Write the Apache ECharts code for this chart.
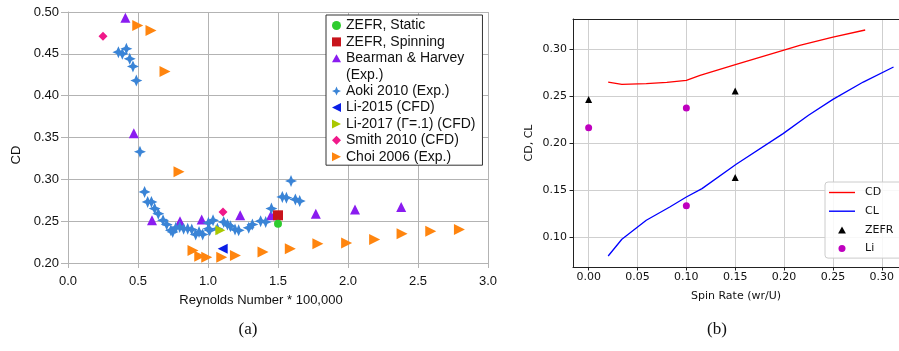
<!DOCTYPE html>
<html><head><meta charset="utf-8">
<script src="https://cdn.jsdelivr.net/npm/echarts@6/dist/echarts.min.js"></script>
<style>html,body{margin:0;padding:0;background:#fff}#c{width:899px;height:351px}</style>
</head><body><div id="c"></div>
<script>
// ---------- (a) CD vs Reynolds number ----------
const xTicksA = [0.0, 0.5, 1.0, 1.5, 2.0, 2.5, 3.0];
const yTicksA = [0.20, 0.25, 0.30, 0.35, 0.40, 0.45, 0.50];
const zefrStatic = [[1.50, 0.247]];
const zefrSpinning = [[1.50, 0.257]];
const bearman = [[0.41, 0.493], [0.47, 0.355], [0.60, 0.251], [0.80, 0.250], [0.955, 0.252], [1.23, 0.257], [1.45, 0.257], [1.77, 0.259], [2.05, 0.264], [2.38, 0.267]];
const aoki = [[0.36, 0.452], [0.388, 0.450], [0.417, 0.456], [0.441, 0.444], [0.464, 0.435], [0.488, 0.418], [0.514, 0.333],
  [0.547, 0.285], [0.569, 0.273], [0.596, 0.273], [0.619, 0.265], [0.645, 0.259], [0.679, 0.251], [0.705, 0.246],
  [0.735, 0.239], [0.748, 0.237], [0.770, 0.242], [0.798, 0.243], [0.826, 0.241], [0.855, 0.241], [0.884, 0.240],
  [0.912, 0.234], [0.936, 0.237], [0.962, 0.234], [1.003, 0.248], [1.003, 0.241], [1.012, 0.239], [1.036, 0.251],
  [1.067, 0.241], [1.112, 0.249], [1.139, 0.246], [1.160, 0.244], [1.193, 0.240], [1.219, 0.239], [1.291, 0.242],
  [1.317, 0.246], [1.376, 0.250], [1.412, 0.249], [1.453, 0.265], [1.531, 0.279], [1.560, 0.278], [1.593, 0.298],
  [1.624, 0.276], [1.655, 0.274]];
const li2015 = [[1.105, 0.217]];
const li2017 = [[1.088, 0.239]];
const smith = [[0.25, 0.471], [1.107, 0.261]];
const choi = [[0.498, 0.484], [0.593, 0.478], [0.693, 0.429], [0.793, 0.309], [0.893, 0.215], [0.941, 0.208], [0.991, 0.207],
  [1.098, 0.207], [1.196, 0.209], [1.393, 0.213], [1.588, 0.217], [1.785, 0.223], [1.99, 0.224], [2.19, 0.228],
  [2.386, 0.235], [2.591, 0.238], [2.796, 0.240]];

// ---------- (b) CD, CL vs spin rate ----------
const xTicksB = [0.00, 0.05, 0.10, 0.15, 0.20, 0.25, 0.30];
const yTicksB = [0.10, 0.15, 0.20, 0.25, 0.30];
const cdCurve = [[0.020, 0.2655], [0.034, 0.2631], [0.059, 0.2638], [0.080, 0.2652], [0.100, 0.2673], [0.114, 0.2727],
  [0.151, 0.2844], [0.199, 0.2993], [0.216, 0.3046], [0.250, 0.3134], [0.283, 0.3209]];
const clCurve = [[0.020, 0.0804], [0.034, 0.0982], [0.059, 0.1184], [0.083, 0.1326], [0.100, 0.1432], [0.116, 0.1521],
  [0.151, 0.1780], [0.199, 0.2106], [0.225, 0.2301], [0.250, 0.2471], [0.281, 0.2655], [0.312, 0.2815]];
const zefrB = [[0.00, 0.247], [0.15, 0.256], [0.15, 0.164]];
const liB = [[0.00, 0.217], [0.10, 0.238], [0.10, 0.134]];

const LS = '"Liberation Sans", Arial, sans-serif';
const DJ = '"DejaVu Sans", sans-serif';
const RIGHT_TRI = 'path://M0,0 L10,5 L0,10 Z';
const LEFT_TRI = 'path://M10,0 L0,5 L10,10 Z';
const UP_TRI = 'path://M5,0 L10,9 L0,9 Z';
const STAR4 = 'path://M5,0 L6.5,3.5 L10,5 L6.5,6.5 L5,10 L3.5,6.5 L0,5 L3.5,3.5 Z';
const HLINE = 'path://M0,0 L26,0 L26,1.4 L0,1.4 Z';
const gA = '#b3b3b3';
const gB = '#cfcfcf';
const XMIN_B = -0.016, XMAX_B = 0.3176, YMIN_B = 0.0687, YMAX_B = 0.3326;

const chart = echarts.init(document.getElementById('c'), null, {renderer: 'canvas'});
const opt = {
  animation: false,
  backgroundColor: '#fff',
  grid: [
    {left: 68, top: 12, width: 420, height: 251},
    {left: 573, top: 19, right: 0, height: 248}
  ],
  xAxis: [
    {gridIndex: 0, type: 'value', min: xTicksA[0], max: xTicksA[xTicksA.length - 1], interval: 0.5,
      name: 'Reynolds Number * 100,000', nameLocation: 'middle', nameGap: 31,
      nameTextStyle: {fontFamily: LS, fontSize: 13, color: '#111', padding: [0, 34, 0, 0]},
      axisLine: {lineStyle: {color: gA}}, axisTick: {show: true, length: 5, lineStyle: {color: gA}},
      axisLabel: {fontFamily: LS, fontSize: 13, color: '#111', margin: 12, formatter: v => v.toFixed(1)},
      splitLine: {lineStyle: {color: gA, width: 1}}},
    {gridIndex: 1, type: 'value', min: XMIN_B, max: XMAX_B,
      name: 'Spin Rate (wr/U)', nameLocation: 'middle', nameGap: 24,
      nameTextStyle: {fontFamily: DJ, fontSize: 11, color: '#111'},
      axisLine: {onZero: false, lineStyle: {color: '#222'}},
      axisTick: {show: true, length: 3.5, customValues: xTicksB, lineStyle: {color: '#222'}},
      axisLabel: {fontFamily: DJ, fontSize: 11, color: '#111', margin: 5, customValues: xTicksB, formatter: v => v.toFixed(2)},
      splitLine: {show: false}},
    {gridIndex: 1, type: 'value', position: 'top', min: XMIN_B, max: XMAX_B,
      axisLine: {show: true, onZero: false, lineStyle: {color: '#222'}},
      axisTick: {show: false}, axisLabel: {show: false}, splitLine: {show: false}}
  ],
  yAxis: [
    {gridIndex: 0, type: 'value', min: yTicksA[0], max: yTicksA[yTicksA.length - 1], interval: 0.05,
      name: 'CD', nameLocation: 'middle', nameGap: 45,
      nameTextStyle: {fontFamily: LS, fontSize: 13, color: '#111', padding: [0, 35, 0, 0]},
      axisLine: {show: true, lineStyle: {color: gA}}, axisTick: {show: true, length: 7, lineStyle: {color: gA}},
      axisLabel: {fontFamily: LS, fontSize: 13, color: '#111', margin: 9, formatter: v => v.toFixed(2)},
      splitLine: {lineStyle: {color: gA, width: 1}}},
    {gridIndex: 1, type: 'value', min: YMIN_B, max: YMAX_B,
      name: 'CD, CL', nameLocation: 'middle', nameGap: 38,
      nameTextStyle: {fontFamily: DJ, fontSize: 11, color: '#111'},
      axisLine: {show: true, onZero: false, lineStyle: {color: '#222'}},
      axisTick: {show: true, length: 3.5, customValues: yTicksB, lineStyle: {color: '#222'}},
      axisLabel: {fontFamily: DJ, fontSize: 11, color: '#111', margin: 6, customValues: yTicksB, formatter: v => v.toFixed(2)},
      splitLine: {show: false}}
  ],
  legend: [
    {left: 326, top: 15, orient: 'vertical', selectedMode: false,
      backgroundColor: '#fff', borderColor: '#333', borderWidth: 1, borderRadius: 0,
      padding: [3, 7, 1, 6], itemGap: 1.4, itemWidth: 9, itemHeight: 9,
      textStyle: {fontFamily: LS, fontSize: 14, color: '#111', lineHeight: 15},
      data: [
        {name: 'ZEFR, Static', icon: 'circle'},
        {name: 'ZEFR, Spinning', icon: 'rect'},
        {name: 'Bearman & Harvey', icon: UP_TRI},
        {name: '(Exp.)', icon: 'none'},
        {name: 'Aoki 2010 (Exp.)', icon: STAR4},
        {name: 'Li-2015 (CFD)', icon: LEFT_TRI},
        {name: 'Li-2017 (Γ=.1) (CFD)', icon: RIGHT_TRI},
        {name: 'Smith 2010 (CFD)', icon: 'diamond'},
        {name: 'Choi 2006 (Exp.)', icon: RIGHT_TRI}
      ]},
    {left: 825, top: 182, orient: 'vertical', selectedMode: false,
      backgroundColor: 'rgba(255,255,255,0.85)', borderColor: '#cccccc', borderWidth: 1, borderRadius: 3,
      padding: [4, 10, 3, 4], itemGap: 5.7, itemWidth: 26, itemHeight: 7,
      itemStyle: {borderWidth: 0},
      textStyle: {fontFamily: DJ, fontSize: 11, color: '#111', padding: [0, 0, 0, 5], lineHeight: 13},
      data: [
        {name: 'CD', icon: HLINE}, {name: 'CL', icon: HLINE},
        {name: 'ZEFR', icon: UP_TRI}, {name: 'Li', icon: 'path://M5,0 A5,5 0 1 1 4.99,0 Z'}
      ]}
  ],
  graphic: [
    {type: 'text', x: 248, y: 330, style: {text: '(a)', font: '17px "Liberation Serif", serif', fill: '#111', align: 'center', verticalAlign: 'middle'}},
    {type: 'text', x: 717, y: 330, style: {text: '(b)', font: '17px "Liberation Serif", serif', fill: '#111', align: 'center', verticalAlign: 'middle'}}
  ],
  series: [
    {name: 'Choi 2006 (Exp.)', type: 'scatter', xAxisIndex: 0, yAxisIndex: 0, data: choi, symbol: RIGHT_TRI, symbolSize: 11, itemStyle: {color: '#ff850f', opacity: 1}},
    {name: 'Bearman & Harvey', type: 'scatter', xAxisIndex: 0, yAxisIndex: 0, data: bearman, symbol: 'triangle', symbolSize: 10, itemStyle: {color: '#8a1cf0', opacity: 1}},
    {name: '(Exp.)', type: 'scatter', xAxisIndex: 0, yAxisIndex: 0, data: [], itemStyle: {color: '#8a1cf0'}},
    {name: 'Aoki 2010 (Exp.)', type: 'scatter', xAxisIndex: 0, yAxisIndex: 0, data: aoki, symbol: STAR4, symbolSize: 12, itemStyle: {color: '#3a84d6', opacity: 1}},
    {name: 'Smith 2010 (CFD)', type: 'scatter', xAxisIndex: 0, yAxisIndex: 0, data: smith, symbol: 'diamond', symbolSize: 9, itemStyle: {color: '#f0198a', opacity: 1}},
    {name: 'Li-2015 (CFD)', type: 'scatter', xAxisIndex: 0, yAxisIndex: 0, data: li2015, symbol: LEFT_TRI, symbolSize: 10, itemStyle: {color: '#0a1ee6', opacity: 1}},
    {name: 'Li-2017 (Γ=.1) (CFD)', type: 'scatter', xAxisIndex: 0, yAxisIndex: 0, data: li2017, symbol: RIGHT_TRI, symbolSize: 10, itemStyle: {color: '#aac800', opacity: 1}},
    {name: 'ZEFR, Spinning', type: 'scatter', xAxisIndex: 0, yAxisIndex: 0, data: zefrSpinning, symbol: 'rect', symbolSize: 10, itemStyle: {color: '#c8141c', opacity: 1}},
    {name: 'ZEFR, Static', type: 'scatter', xAxisIndex: 0, yAxisIndex: 0, data: zefrStatic, symbol: 'circle', symbolSize: 8, itemStyle: {color: '#2ecc2e', opacity: 1}},

    {name: 'gridB', type: 'line', xAxisIndex: 1, yAxisIndex: 1, data: [], z: 0, silent: true,
      markLine: {silent: true, z: 0, zlevel: 0, symbol: ['none', 'none'], animation: false, label: {show: false},
        lineStyle: {type: 'solid', color: gB, width: 1},
        emphasis: {disabled: true},
        data: xTicksB.map(v => ({xAxis: v})).concat(yTicksB.map(v => ({yAxis: v})))}},
    {name: 'CD', type: 'line', xAxisIndex: 1, yAxisIndex: 1, data: cdCurve, z: 6, symbol: 'none', showSymbol: false, lineStyle: {color: '#ff0000', width: 1.3}, itemStyle: {color: '#ff0000'}},
    {name: 'CL', type: 'line', xAxisIndex: 1, yAxisIndex: 1, data: clCurve, z: 6, symbol: 'none', showSymbol: false, lineStyle: {color: '#0000ff', width: 1.3}, itemStyle: {color: '#0000ff'}},
    {name: 'ZEFR', type: 'scatter', xAxisIndex: 1, yAxisIndex: 1, data: zefrB, z: 7, symbol: 'triangle', symbolSize: 7, itemStyle: {color: '#000', opacity: 1}},
    {name: 'Li', type: 'scatter', xAxisIndex: 1, yAxisIndex: 1, data: liB, z: 7, symbol: 'circle', symbolSize: 7, itemStyle: {color: '#bf00bf', opacity: 1}}
  ]
};
chart.setOption(opt);
</script>
</body></html>
